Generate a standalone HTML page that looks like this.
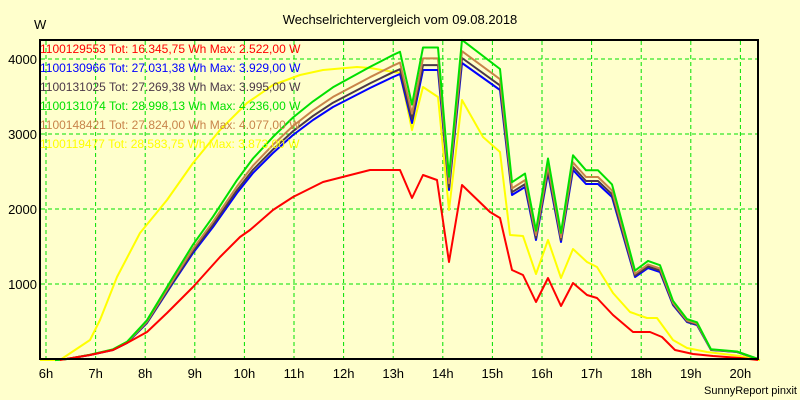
<!DOCTYPE html>
<html><head><meta charset="utf-8"><style>
body{margin:0;background:#ffffcc;}
svg{display:block;font-family:"Liberation Sans",sans-serif;}
</style></head><body>
<svg id="s" width="800" height="400" xmlns="http://www.w3.org/2000/svg">
<rect width="800" height="400" fill="#ffffcc"/>
<g id="grid" stroke="#00e000" stroke-width="1" stroke-dasharray="4,3"></g>
<g id="lines" fill="none" stroke-width="2" stroke-linejoin="round"></g>
<rect x="40" y="40" width="718" height="319" fill="none" stroke="#000" stroke-width="2"/>
<text x="400" y="24" font-size="13" text-anchor="middle">Wechselrichtervergleich vom 09.08.2018</text>
<text x="34" y="29" font-size="13">W</text>
<g font-size="13" text-anchor="end">
<text x="37" y="64">4000</text><text x="37" y="139">3000</text><text x="37" y="214">2000</text><text x="37" y="289">1000</text>
</g>
<g id="xl" font-size="13" text-anchor="middle"></g>
<g font-size="12">
<text x="40" y="53" fill="#ff0000">1100129553 Tot: 16.345,75 Wh Max: 2.522,00 W</text>
<text x="40" y="72" fill="#0000ff">1100130966 Tot: 27.031,38 Wh Max: 3.929,00 W</text>
<text x="40" y="91" fill="#4b3848">1100131025 Tot: 27.269,38 Wh Max: 3.995,00 W</text>
<text x="40" y="110" fill="#00e000">1100131074 Tot: 28.998,13 Wh Max: 4.236,00 W</text>
<text x="40" y="129" fill="#c8844a">1100148421 Tot: 27.824,00 Wh Max: 4.077,00 W</text>
<text x="40" y="148" fill="#ffff00">1100119477 Tot: 28.583,75 Wh Max: 3.873,00 W</text>
</g>
<text x="797" y="394" font-size="11" text-anchor="end">SunnyReport pinxit</text>
</svg>
<script>
var NS="http://www.w3.org/2000/svg";
function el(p,t,a,txt){var e=document.createElementNS(NS,t);for(var k in a)e.setAttribute(k,a[k]);if(txt)e.textContent=txt;document.getElementById(p).appendChild(e);}
for(var k=0;k<15;k++){var x=46+49.6*k;el("grid","line",{x1:x,y1:41,x2:x,y2:358});el("xl","text",{x:x,y:378},(6+k)+"h");}
[59,134,209,284].forEach(function(y){el("grid","line",{x1:41,y1:y,x2:757,y2:y});});
var blue=[[55,360],[67,359],[90,355],[113,350],[127,343],[147,323],[173,283],[193,253],[213,227],[237,193],[253,173],[273,153],[293,135],[313,120],[333,107],[370,88],[393,77],[400,74],[412,123],[423,70],[438,70],[449,190],[462,63],[500,90],[512,195],[525,187],[536,240],[548,173],[561,242],[573,170],[586,184],[598,184],[612,197],[635,277],[648,268],[660,272],[673,305],[687,322],[697,325],[711,350],[737,352],[758,359]];
var red=[[60,360],[90,355],[113,350],[127,343],[147,332],[167,313],[193,287],[220,257],[240,237],[250,230],[273,210],[293,197],[323,182],[370,170],[400,170],[412,198],[423,175],[437,180],[449,262],[462,185],[490,212],[500,218],[512,270],[523,275],[536,302],[548,278],[561,306],[573,283],[587,295],[597,298],[613,315],[633,332],[650,332],[662,337],[675,350],[693,354],[713,356],[740,358],[758,360]];
var yel=[[40,360],[60,360],[90,340],[100,320],[117,277],[140,233],[167,200],[193,163],[220,130],[247,103],[273,85],[300,75],[323,70],[357,67],[370,68],[400,73],[412,130],[423,87],[438,97],[449,210],[462,100],[483,137],[500,152],[510,235],[523,236],[536,274],[548,240],[561,278],[573,249],[587,262],[597,267],[613,293],[630,312],[647,318],[657,318],[673,340],[687,348],[707,352],[740,356],[760,360]];
function sc(f){return blue.map(function(p){return [p[0],359-(359-p[1])*f];});}
function path(pts,c){el("lines","path",{d:"M"+pts.map(function(p){return p[0]+","+p[1].toFixed(1);}).join("L"),stroke:c});}
path(yel,"#ffff00");
path(blue,"#0000ff");
path(sc(1.017),"#4b3848");
path(sc(1.04),"#c8844a");
path(sc(1.078),"#00e000");
path(red,"#ff0000");
</script>
</body></html>
